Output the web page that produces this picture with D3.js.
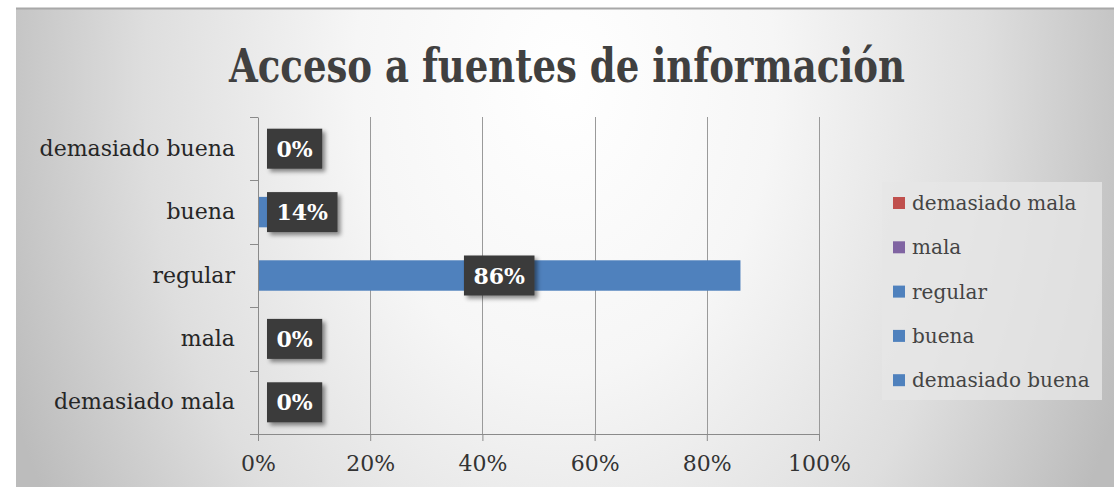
<!DOCTYPE html>
<head>
  <meta charset="utf-8">
  <script src="https://d3js.org/d3.v7.min.js"></script>
  <style>
    body { margin:0; background:#fff; }
    svg { display:block; }
    text { font-family:"DejaVu Serif", serif; }
  </style>
</head>
<body>
<script>
  // chart data
  var title = "Acceso a fuentes de información";
  var categories = ["demasiado buena", "buena", "regular", "mala", "demasiado mala"];
  var values = [0, 0.14, 0.86, 0, 0];
  var barColors = ["#4f81bd", "#4f81bd", "#4f81bd", "#8064a2", "#c0504d"];
  var legendItems = ["demasiado mala", "mala", "regular", "buena", "demasiado buena"];
  var legendColors = ["#c0504d", "#8064a2", "#4f81bd", "#4f81bd", "#4f81bd"];
  var xTicks = [0, 0.2, 0.4, 0.6, 0.8, 1];

  var W = 1120, H = 487;
  var svg = d3.select("body").append("svg").attr("width", W).attr("height", H),
      defs = svg.append("defs");

  // background: light in the upper middle, grey towards the sides
  var bg = defs.append("radialGradient").attr("id", "bg")
      .attr("gradientUnits", "userSpaceOnUse")
      .attr("cx", 565).attr("cy", 80).attr("r", 600)
      .attr("gradientTransform", "translate(0,80) scale(1,1.4) translate(0,-80)");
  bg.append("stop").attr("offset", "0").attr("stop-color", "#ffffff");
  bg.append("stop").attr("offset", "0.35").attr("stop-color", "#f6f6f6");
  bg.append("stop").attr("offset", "0.7").attr("stop-color", "#dedede");
  bg.append("stop").attr("offset", "1").attr("stop-color", "#bcbcbc");

  var shadow = defs.append("filter").attr("id", "shadow")
      .attr("x", "-20%").attr("y", "-20%").attr("width", "150%").attr("height", "160%");
  shadow.append("feDropShadow").attr("dx", 3).attr("dy", 3).attr("stdDeviation", 2)
      .attr("flood-color", "#000").attr("flood-opacity", 0.45);

  // frame
  svg.append("rect").attr("x", 16).attr("y", 8).attr("width", 1098).attr("height", H - 8)
      .attr("fill", "url(#bg)");
  svg.append("line").attr("x1", 16).attr("x2", 1114).attr("y1", 8.5).attr("y2", 8.5)
      .attr("stroke", "#a8a8a8").attr("stroke-width", 2);

  svg.append("text").attr("x", 567).attr("y", 82).attr("text-anchor", "middle")
      .attr("font-family", "'DejaVu Serif Condensed', 'DejaVu Serif', serif")
      .attr("font-stretch", "condensed").attr("font-weight", "bold")
      .attr("font-size", 46).attr("fill", "#404040")
      .attr("textLength", 676).attr("lengthAdjust", "spacingAndGlyphs")
      .text(title);

  var x = d3.scaleLinear().domain([0, 1]).range([258, 819]);
  var y = d3.scaleBand().domain(categories).range([117, 434]);
  var barH = y.step() * 0.48;

  // gridlines
  svg.append("g").selectAll("line").data(xTicks.slice(1)).enter().append("line")
      .attr("x1", function(d){ return Math.round(x(d)) + 0.5; })
      .attr("x2", function(d){ return Math.round(x(d)) + 0.5; })
      .attr("y1", 117).attr("y2", 434)
      .attr("stroke", "#9a9a9a");

  // bars
  svg.append("g").selectAll("rect").data(categories).enter().append("rect")
      .attr("x", x(0))
      .attr("y", function(d){ return y(d) + (y.bandwidth() - barH) / 2; })
      .attr("width", function(d, i){ return x(values[i]) - x(0); })
      .attr("height", barH)
      .attr("fill", function(d, i){ return barColors[i]; });

  // axes
  var xAxis = svg.append("g").attr("transform", "translate(0,434)")
      .call(d3.axisBottom(x).tickValues(xTicks).tickFormat(d3.format(".0%")).tickSize(7).tickPadding(14));
  var yAxis = svg.append("g").attr("transform", "translate(258,0)")
      .call(d3.axisLeft(y).tickSize(0).tickPadding(23));
  xAxis.select(".domain").attr("stroke", "#8a8a8a");
  xAxis.selectAll(".tick line").attr("stroke", "#8a8a8a");
  xAxis.selectAll("text").attr("font-size", 22).attr("fill", "#333").attr("font-family", "DejaVu Serif");
  yAxis.select(".domain").attr("stroke", "#8a8a8a");
  yAxis.selectAll("text").attr("font-size", 22).attr("fill", "#262626").attr("font-family", "DejaVu Serif");
  // category separators on the y axis
  svg.append("g").selectAll("line").data(d3.range(categories.length + 1)).enter().append("line")
      .attr("x1", 250).attr("x2", 258)
      .attr("y1", function(i){ return Math.round(117 + i * y.step()) + 0.5; })
      .attr("y2", function(i){ return Math.round(117 + i * y.step()) + 0.5; })
      .attr("stroke", "#8a8a8a");

  // data labels
  var labels = svg.append("g").selectAll("g").data(categories).enter().append("g");
  labels.each(function(d, i){
    var g = d3.select(this);
    var t = g.append("text").attr("font-weight", "bold").attr("font-size", 22)
        .attr("fill", "#fff").attr("text-anchor", "middle")
        .text(d3.format(".0%")(values[i]));
    var tw = t.node().getComputedTextLength(), bw = tw + 19, bh = 40;
    var cx = Math.max((x(0) + x(values[i])) / 2, x(0) + 9 + bw / 2);
    var cy = y(d) + y.bandwidth() / 2;
    g.insert("rect", "text").attr("x", cx - bw / 2).attr("y", cy - bh / 2)
        .attr("width", bw).attr("height", bh).attr("fill", "#3a3a3a")
        .attr("filter", "url(#shadow)");
    t.attr("x", cx).attr("y", cy + 8);
  });

  // legend
  var lg = svg.append("g");
  lg.append("rect").attr("x", 882).attr("y", 182).attr("width", 220).attr("height", 218)
      .attr("fill", "#e6e6e6").attr("opacity", 0.8);
  var li = lg.selectAll("g").data(legendItems).enter().append("g")
      .attr("transform", function(d, i){ return "translate(893," + (203 + i * 44.3) + ")"; });
  li.append("rect").attr("x", 0).attr("y", -6).attr("width", 12).attr("height", 12)
      .attr("fill", function(d, i){ return legendColors[i]; });
  li.append("text").attr("x", 19).attr("y", 7).attr("font-size", 20).attr("fill", "#444")
      .text(function(d){ return d; });
</script>
</body>
</html>
